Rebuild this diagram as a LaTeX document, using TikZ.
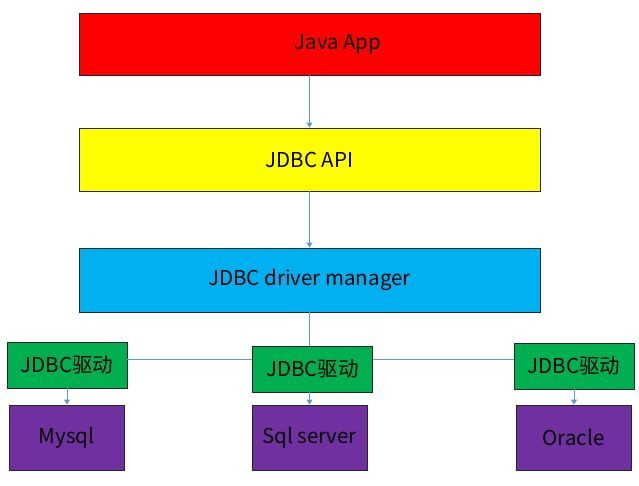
\documentclass[tikz,border=0pt]{standalone}
\usepackage{fontspec}
\setmainfont{Noto Sans CJK SC}
\usetikzlibrary{arrows.meta}
\definecolor{lineblue}{RGB}{91,155,213}
\definecolor{boxred}{RGB}{255,0,0}
\definecolor{boxyellow}{RGB}{255,255,0}
\definecolor{boxblue}{RGB}{0,176,240}
\definecolor{boxgreen}{RGB}{0,176,80}
\definecolor{boxpurple}{RGB}{112,48,160}
\begin{document}
\begin{tikzpicture}[x=1pt, y=-1pt,
	every node/.style={font=\fontsize{20.5}{20.5}\selectfont},
	layer/.style={rectangle, draw=black!85, line width=0.9pt, minimum width=461pt, minimum height=62pt, inner sep=0pt},
	driver/.style={rectangle, draw=black!85, line width=0.9pt, fill=boxgreen, minimum width=120pt, minimum height=46pt, inner sep=0pt},
	db/.style={rectangle, draw=black!85, line width=0.9pt, fill=boxpurple, minimum width=115pt, minimum height=65pt, inner sep=0pt},
	link/.style={draw=lineblue, line width=1pt},
	arr/.style={link, -{Triangle[length=5pt,width=6pt]}}]
			\useasboundingbox (0,0) rectangle (639,486);
			\node[layer, fill=boxred] (app) at (309.5,44){};
			\node (apptext) at (338,44){Java App};
			\node[layer, fill=boxyellow, minimum height=63pt] (api) at (309.5,159.5){JDBC API};
			\node[layer, fill=boxblue, minimum height=64pt] (mgr) at (309.5,280){JDBC driver manager};
			
			\node[driver] (drvl) at (67,365){JDBC驱动};
			\node[driver] (drvm) at (312.5,369){JDBC驱动};
			\node[driver] (drvr) at (574,366){JDBC驱动};
			
			\node[db] (mysql) at (66.5,437.5){Mysql};
			\node[db] (sqlsrv) at (309.5,437.5){Sql server};
			\node[db] (oracle) at (573.5,437.5){Oracle};
			
			\coordinate (bus) at (0,359);
			\path[arr] (app) -- (api);
			\path[arr] (api) -- (mgr);
			\path[link] (mgr.south) -- (mgr.south |- drvm.north);
			\path[link] (drvl.east |- bus) -- (drvm.west |- bus);
			\path[link] (drvm.east |- bus) -- (drvr.west |- bus);
			\path[arr] (drvl) -- (drvl |- mysql.north);
			\path[arr] (drvm.south -| sqlsrv) -- (sqlsrv);
			\path[arr] (drvr) -- (drvr |- oracle.north);
\end{tikzpicture}
\end{document}
